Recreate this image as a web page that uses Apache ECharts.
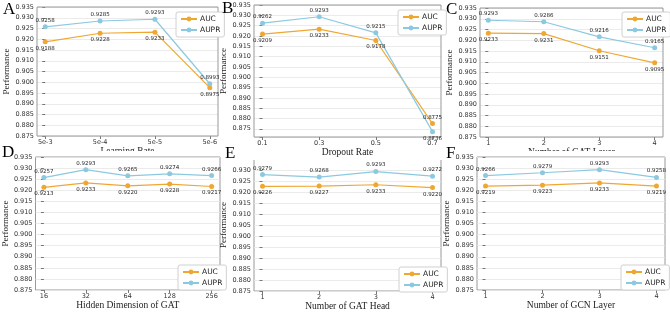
<!DOCTYPE html>
<html><head><meta charset="utf-8">
<script src="https://cdn.jsdelivr.net/npm/echarts@6/dist/echarts.min.js"></script>
<style>html,body{margin:0;padding:0;background:#fff}#c{width:670px;height:314px}</style>
</head><body><div id="c"></div>
<script>
// ---- data ----
const catsA = ['5e-3', '5e-4', '5e-5', '5e-6'];
const aucA  = [0.9188, 0.9228, 0.9233, 0.8975];
const auprA = [0.9258, 0.9285, 0.9293, 0.8993];

const catsB = ['0.1', '0.3', '0.5', '0.7'];
const aucB  = [0.9209, 0.9233, 0.9178, 0.8775];
const auprB = [0.9262, 0.9293, 0.9215, 0.8736];

const catsC = ['1', '2', '3', '4'];
const aucC  = [0.9233, 0.9231, 0.9151, 0.9095];
const auprC = [0.9293, 0.9286, 0.9216, 0.9165];

const catsD = ['16', '32', '64', '128', '256'];
const aucD  = [0.9213, 0.9233, 0.9220, 0.9228, 0.9217];
const auprD = [0.9257, 0.9293, 0.9265, 0.9274, 0.9266];

const catsE = ['1', '2', '3', '4'];
const aucE  = [0.9226, 0.9227, 0.9233, 0.9220];
const auprE = [0.9279, 0.9268, 0.9293, 0.9272];

const catsF = ['1', '2', '3', '4'];
const aucF  = [0.9219, 0.9223, 0.9233, 0.9219];
const auprF = [0.9266, 0.9279, 0.9293, 0.9258];

const seriesNames = ['AUC', 'AUPR'];
const xAxisNames = ['Learning Rate', 'Dropout Rate', 'Number of GAT Layer',
                    'Hidden Dimension of GAT', 'Number of GAT Head', 'Number of GCN Layer'];
const yAxisName = 'Performance';
const panelLetters = ['A', 'B', 'C', 'D', 'E', 'F'];
const yMins = [0.875, 0.871, 0.875, 0.875, 0.875, 0.875];
const yMax = 0.935;

// ---- layout / style ----
const COL_AUC = '#F0A732';
const COL_AUPR = '#8CC9E0';
const SANS = 'DejaVu Sans';
const SERIF = 'Liberation Serif';

const layout = [
  { grid: {left: 37, top: 7, width: 181, height: 129}, legend: {left: 176, top: 12}, letter: {left: 3, top: 1}, row: 1 },
  { grid: {left: 254, top: 5, width: 187, height: 132}, legend: {left: 398, top: 10}, letter: {left: 222, top: 0}, row: 1 },
  { grid: {left: 480, top: 8, width: 183, height: 129}, legend: {left: 622, top: 12}, letter: {left: 446, top: 1}, row: 1 },
  { grid: {left: 32, top: 157, width: 188, height: 133}, legend: {left: 178, top: 265}, letter: {left: 2, top: 144}, row: 2 },
  { grid: {left: 254, top: 159, width: 187, height: 132}, legend: {left: 399, top: 267}, letter: {left: 225, top: 145}, row: 2 },
  { grid: {left: 477, top: 157, width: 188, height: 133}, legend: {left: 621, top: 265}, letter: {left: 446, top: 145}, row: 2 }
];

const panelData = [
  [catsA, aucA, auprA], [catsB, aucB, auprB], [catsC, aucC, auprC],
  [catsD, aucD, auprD], [catsE, aucE, auprE], [catsF, aucF, auprF]
];

const grids = [], xAxes = [], yAxes = [], series = [], legends = [], titles = [];

panelData.forEach((pd, p) => {
  const [cats, auc, aupr] = pd;
  const L = layout[p];
  const r2 = L.row === 2;
  const n = cats.length;
  const m = 0.05 * (n - 1);
  const idx = cats.map((c, i) => i);
  grids.push(Object.assign({
    show: true, borderColor: '#999', borderWidth: 1, backgroundColor: 'transparent',
    z: r2 ? 6 : 2
  }, L.grid));
  xAxes.push({
    type: 'value', gridIndex: p, min: -m, max: n - 1 + m, z: r2 ? 6 : (p === 1 ? 9 : 0),
    name: xAxisNames[p], nameLocation: 'middle', nameGap: 8,
    nameTextStyle: {fontFamily: SERIF, fontSize: 9.5, color: '#222'},
    axisLine: {show: false},
    axisTick: {show: true, inside: false, length: 3, lineStyle: {color: '#777'}, customValues: idx},
    axisLabel: {customValues: idx, formatter: v => cats[Math.round(v)], fontFamily: SANS, fontSize: 6.5, color: '#333', margin: 3},
    splitLine: {show: false}
  });
  yAxes.push({
    type: 'value', gridIndex: p, min: yMins[p], max: yMax, z: r2 ? 6 : 0,
    minInterval: 0.005, maxInterval: 0.005, splitNumber: 12,
    name: yAxisName, nameLocation: 'middle', nameGap: 25,
    nameTextStyle: {fontFamily: SERIF, fontSize: 9, color: '#222'},
    axisLine: {show: false},
    axisTick: {show: true, inside: false, length: 3, lineStyle: {color: '#777'}},
    axisLabel: {
      fontFamily: SANS, fontSize: 6.5, color: '#333', margin: 3,
      showMaxLabel: p !== 4,
      formatter: v => (Math.abs(v / 0.005 - Math.round(v / 0.005)) < 1e-6 ? v.toFixed(3) : '')
    },
    splitLine: {show: true, lineStyle: {color: '#e6e6e6', width: 0.8}}
  });
  const mk = (vals, other, name, color) => ({
    type: 'line', name: name, xAxisIndex: p, yAxisIndex: p, z: r2 ? 8 : 2,
    symbol: 'circle', symbolSize: 5,
    itemStyle: {color: color},
    lineStyle: {color: color, width: 1.2},
    label: {show: true, fontFamily: SANS, fontSize: 5.5, color: '#222', distance: 1,
            formatter: prm => prm.value[1].toFixed(4)},
    data: vals.map((v, i) => ({value: [i, v], label: {position: v >= other[i] ? 'top' : 'bottom'}}))
  });
  series.push(mk(auc, aupr, seriesNames[0], COL_AUC));
  series.push(mk(aupr, auc, seriesNames[1], COL_AUPR));
  legends.push({
    data: seriesNames, left: L.legend.left, top: L.legend.top, orient: 'vertical',
    itemWidth: 16, itemHeight: 6, itemGap: 3, padding: [3, 4, 3, 4],
    borderColor: '#d0d0d0', borderWidth: 1, borderRadius: 2, backgroundColor: '#fff',
    textStyle: {fontFamily: SANS, fontSize: 7.5, color: '#222', padding: [0, 0, 0, -2]},
    selectedMode: false, z: r2 ? 9 : 4
  });
  titles.push({
    text: panelLetters[p], left: L.letter.left, top: L.letter.top, padding: 0, z: 10,
    textStyle: {fontFamily: SERIF, fontSize: 17, fontWeight: 'normal', color: '#000'}
  });
});

const graphic = [
  {type: 'rect', shape: {x: 0, y: 151, width: 222, height: 163}, style: {fill: '#fff'}, z: 5, silent: true},
  {type: 'rect', shape: {x: 222, y: 158, width: 224, height: 156}, style: {fill: '#fff'}, z: 5, silent: true},
  {type: 'rect', shape: {x: 446, y: 151, width: 224, height: 163}, style: {fill: '#fff'}, z: 5, silent: true},
  {type: 'rect', shape: {x: 248, y: 156, width: 196, height: 4}, style: {fill: '#fff'}, z: 7, silent: true}
];

const chart = echarts.init(document.getElementById('c'), null, {renderer: 'canvas'});
chart.setOption({
  animation: false,
  title: titles, grid: grids, xAxis: xAxes, yAxis: yAxes, series: series, legend: legends,
  graphic: {elements: graphic}
});
</script>
</body></html>
